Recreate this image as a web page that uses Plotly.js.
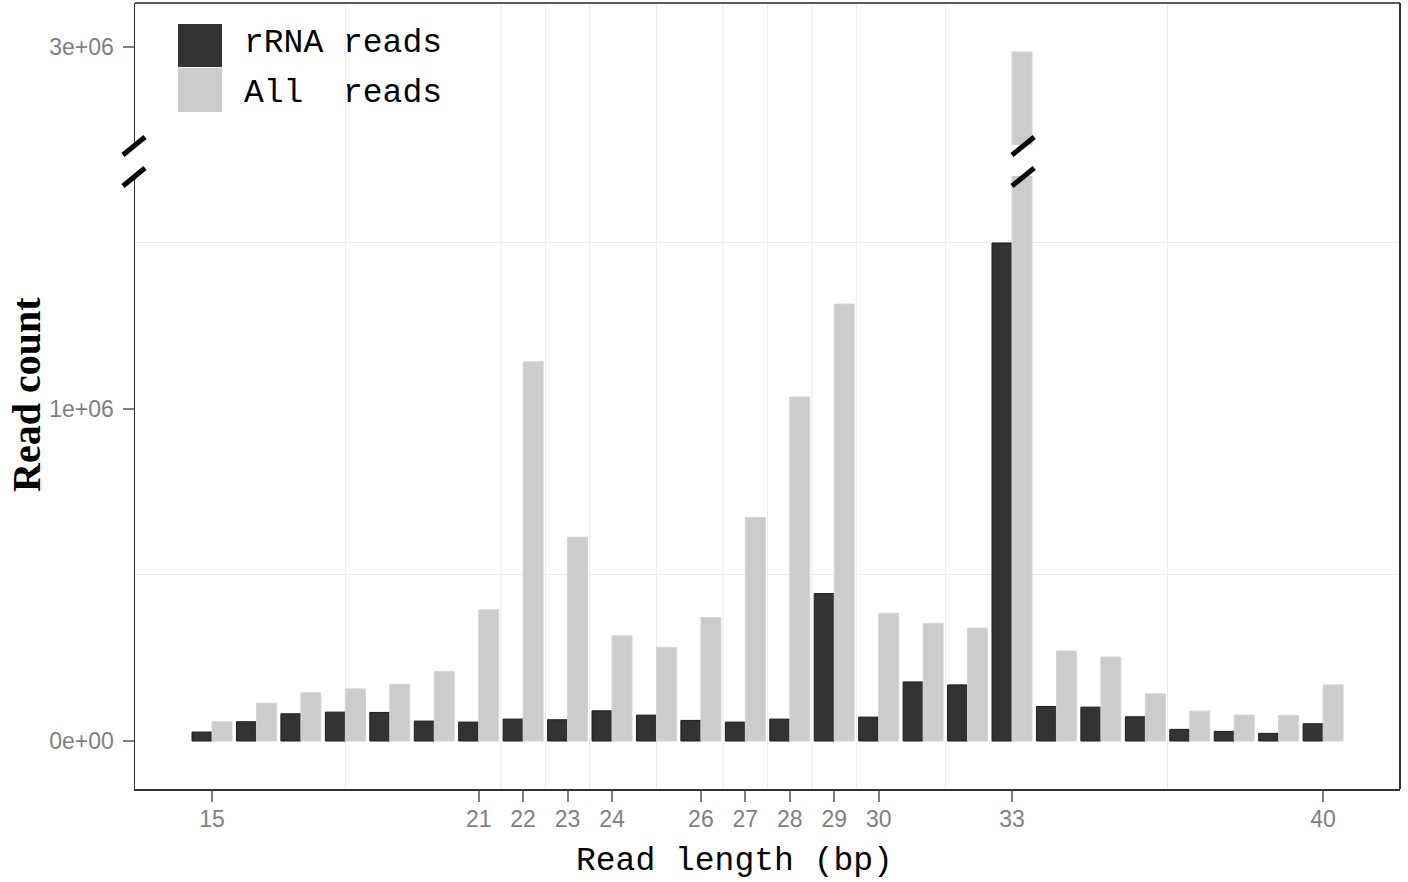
<!DOCTYPE html>
<html>
<head>
<meta charset="utf-8">
<script src="https://cdn.plot.ly/plotly-3.0.1.min.js"></script>
<style>
  html, body { margin: 0; padding: 0; background: #ffffff; }
  #chart { width: 1408px; height: 882px; }
</style>
</head>
<body>
<div id="chart"></div>
<script>
// ---- data ----
const readLengths = [15,16,17,18,19,20,21,22,23,24,25,26,27,28,29,30,31,32,33,34,35,36,37,38,39,40];
const rrnaReads = [27000,58000,82000,87000,86000,60000,57000,66000,64000,91000,78000,62000,57000,66000,444000,72000,178000,169000,1500000,104000,102000,73000,35000,29000,23000,52000];
const allReads  = [58000,114000,145000,157000,171000,209000,395000,1142000,614000,317000,282000,372000,673000,1036000,1316000,385000,354000,340000,2985000,271000,253000,142000,90000,78000,77000,169000];
const seriesNames = ["rRNA reads", "All\u00a0\u00a0reads"];
const xTickVals = [15,21,22,23,24,26,27,28,29,30,33,40];
const xMinorGrid = [18,21.5,22.5,23.5,25,26.5,27.5,28.5,29.5,31.5,36.5];
const yLowTickVals = [0, 1000000];
const yLowTickText = ["0e+00", "1e+06"];
const yLowMinor = [500000, 1500000];
const yHighTickVals = [3000000];
const yHighTickText = ["3e+06"];

const dark = "#333333", light = "#cccccc";
const tickGrey = "#7f7f7f";
const tickFont = {family: "Liberation Sans, Arial, sans-serif", size: 23, color: tickGrey};

function barTrace(y, color, edge, yaxis) {
  return {
    type: "bar", x: readLengths, y: y, yaxis: yaxis, xaxis: "x",
    marker: {color: color, line: {color: edge, width: 1}},
    showlegend: false, hoverinfo: "skip"
  };
}

const data = [
  barTrace(rrnaReads, dark, "#1e1e1e", "y"),
  barTrace(allReads, light, "#d4d4d4", "y"),
  barTrace(rrnaReads, dark, "#1e1e1e", "y2"),
  barTrace(allReads, light, "#d4d4d4", "y2")
];

const brokenX = readLengths[allReads.indexOf(Math.max(...allReads))];

const shapes = [];
// vertical minor grid lines spanning the whole panel (through the break gap)
xMinorGrid.forEach(v => shapes.push({
  type: "line", xref: "x", yref: "paper", x0: v, x1: v, y0: 0, y1: 1,
  line: {color: "#ebebeb", width: 1}, layer: "below"
}));
// panel border top & right
shapes.push({type: "line", xref: "paper", yref: "paper", x0: 0, x1: 1, y0: 1, y1: 1, line: {color: "#5a5a5a", width: 2}});
shapes.push({type: "line", xref: "paper", yref: "paper", x0: 1, x1: 1, y0: 0, y1: 1, line: {color: "#333333", width: 2}});
// break marks on the y axis
[[0.7672, 0.7901], [0.8066, 0.8295]].forEach(p => shapes.push({
  type: "line", xref: "paper", yref: "paper", x0: -0.0095, x1: 0.0079, y0: p[0], y1: p[1],
  line: {color: "#000000", width: 5}
}));
// break marks on the broken bar
[[0.7672, 0.7901], [0.8066, 0.8295]].forEach(p => shapes.push({
  type: "line", xref: "x", yref: "paper", x0: brokenX, x1: brokenX + 0.5, y0: p[0], y1: p[1],
  line: {color: "#000000", width: 5}
}));
// legend keys
shapes.push({type: "rect", xref: "paper", yref: "paper", x0: 0.0340, x1: 0.0688, y0: 0.9186, y1: 0.9733, fillcolor: dark, line: {width: 0}});
shapes.push({type: "rect", xref: "paper", yref: "paper", x0: 0.0340, x1: 0.0688, y0: 0.8613, y1: 0.9173, fillcolor: light, line: {width: 0}});

const monoFont = {family: "Liberation Mono, Courier New, monospace", size: 33, color: "#000000"};
const annotations = [
  {xref: "paper", yref: "paper", x: 0.0846, y: 0.949, xanchor: "left", yanchor: "middle", showarrow: false, text: seriesNames[0], font: monoFont},
  {xref: "paper", yref: "paper", x: 0.0846, y: 0.885, xanchor: "left", yanchor: "middle", showarrow: false, text: seriesNames[1], font: monoFont},
  {xref: "paper", yref: "paper", x: 0.4743, y: -0.0925, xanchor: "center", yanchor: "middle", showarrow: false, text: "Read\u00a0length\u00a0(bp)", font: monoFont},
  {xref: "paper", yref: "paper", x: -0.0862, y: 0.5025, xanchor: "center", yanchor: "middle", showarrow: false, textangle: -90,
   text: "<b>Read count</b>", font: {family: "Liberation Serif, Times New Roman, serif", size: 40, color: "#000000"}}
];

const yCommon = {
  anchor: "x", showline: true, linecolor: "#333333", linewidth: 1.5,
  ticks: "outside", ticklen: 11, tickwidth: 2, tickcolor: tickGrey,
  tickfont: tickFont, showgrid: false, zeroline: false, fixedrange: true,
  ticklabelstandoff: 4
};

const layout = {
  width: 1408, height: 882,
  margin: {l: 135, r: 8, t: 3, b: 93, pad: 0},
  paper_bgcolor: "#ffffff", plot_bgcolor: "rgba(0,0,0,0)",
  barmode: "group", bargap: 0.1, bargroupgap: 0,
  showlegend: false,
  xaxis: {
    anchor: "y", range: [13.267, 41.73], tickmode: "array", tickvals: xTickVals,
    ticks: "outside", ticklen: 11, tickwidth: 2, tickcolor: tickGrey, tickfont: tickFont,
    showline: true, linecolor: "#333333", linewidth: 2, showgrid: false, zeroline: false,
    fixedrange: true, ticklabelstandoff: -3
  },
  yaxis: Object.assign({}, yCommon, {
    domain: [0, 0.7799], range: [-144578, 1701800],
    tickmode: "array", tickvals: yLowTickVals, ticktext: yLowTickText,
    minor: {tickmode: "array", tickvals: yLowMinor, showgrid: true, gridcolor: "#ebebeb", gridwidth: 1, ticks: ""}
  }),
  yaxis2: Object.assign({}, yCommon, {
    domain: [0.8193, 1], range: [2704800, 3132500],
    tickmode: "array", tickvals: yHighTickVals, ticktext: yHighTickText
  }),
  shapes: shapes,
  annotations: annotations
};

Plotly.newPlot("chart", data, layout, {displayModeBar: false, staticPlot: true});
</script>
</body>
</html>
